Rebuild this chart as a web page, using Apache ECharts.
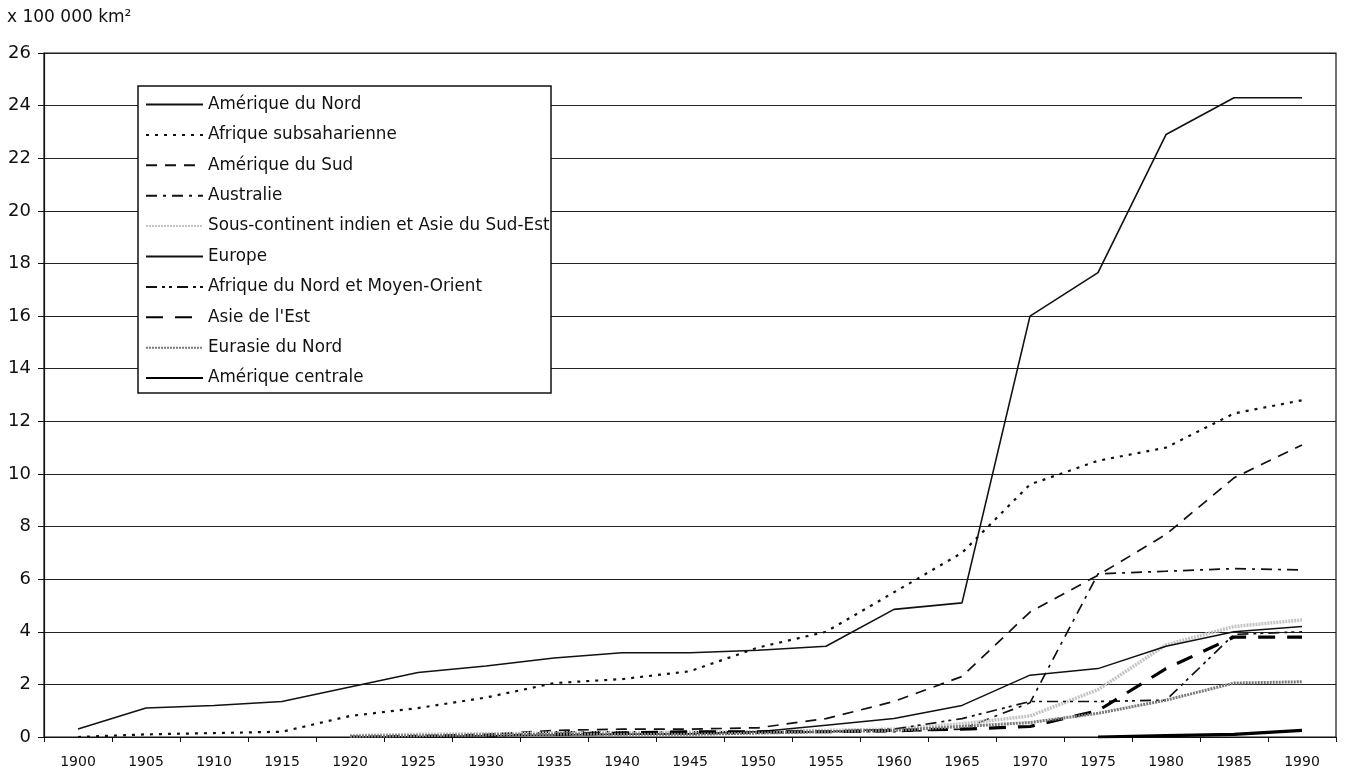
<!DOCTYPE html>
<html>
<head>
<meta charset="utf-8">
<title>Superficie par région</title>
<script src="https://cdn.jsdelivr.net/npm/echarts@6/dist/echarts.min.js"></script>
<style>
  html, body { margin: 0; padding: 0; background: #fff; }
  #chart { width: 1345px; height: 778px; }
</style>
</head>
<body>
<div id="chart"></div>
<script>
// Années (axe des abscisses)
const years = ['1900','1905','1910','1915','1920','1925','1930','1935','1940','1945',
               '1950','1955','1960','1965','1970','1975','1980','1985','1990'];

// Valeurs en centaines de milliers de km²
const ameriqueNord     = [0.3, 1.1, 1.2, 1.35, 1.9, 2.45, 2.7, 3.0, 3.2, 3.2, 3.3, 3.45, 4.85, 5.1, 16.0, 17.65, 22.9, 24.3, 24.3];
const afriqueSub       = [0.0, 0.1, 0.15, 0.2, 0.8, 1.1, 1.5, 2.05, 2.2, 2.5, 3.4, 4.0, 5.5, 7.0, 9.6, 10.5, 11.0, 12.3, 12.8];
const ameriqueSud      = ['-', '-', '-', '-', 0.02, 0.05, 0.1, 0.25, 0.3, 0.3, 0.35, 0.7, 1.35, 2.3, 4.75, 6.15, 7.7, 9.85, 11.1];
const australie        = ['-', '-', '-', '-', '-', '-', 0.0, 0.2, 0.2, 0.2, 0.2, 0.2, 0.2, 0.3, 1.3, 6.2, 6.3, 6.4, 6.35];
const sousContinent    = ['-', '-', '-', '-', 0.05, 0.1, 0.12, 0.15, 0.15, 0.18, 0.2, 0.25, 0.3, 0.5, 0.8, 1.8, 3.5, 4.2, 4.45];
const europe           = ['-', '-', '-', '-', 0.0, 0.02, 0.05, 0.08, 0.1, 0.12, 0.2, 0.45, 0.7, 1.2, 2.35, 2.6, 3.45, 4.0, 4.2];
const afriqueNord      = ['-', '-', '-', '-', '-', '-', '-', 0.1, 0.1, 0.12, 0.15, 0.2, 0.3, 0.7, 1.35, 1.35, 1.4, 3.9, 4.0];
const asieEst          = ['-', '-', '-', '-', '-', '-', '-', 0.1, 0.15, 0.2, 0.2, 0.2, 0.25, 0.3, 0.4, 1.0, 2.6, 3.8, 3.8];
const eurasieNord      = ['-', '-', '-', '-', 0.03, 0.05, 0.08, 0.1, 0.1, 0.1, 0.15, 0.2, 0.25, 0.4, 0.55, 0.9, 1.4, 2.05, 2.1];
const ameriqueCentrale = ['-', '-', '-', '-', '-', '-', '-', '-', '-', '-', '-', '-', '-', '-', '-', 0.0, 0.05, 0.1, 0.25];

const FONT = 'DejaVu Sans';

function ligne(name, data, color, width, type) {
  return {
    name: name,
    type: 'line',
    data: data,
    symbol: 'none',
    smooth: false,
    connectNulls: false,
    silent: true,
    lineStyle: { color: color, width: width, type: type, cap: 'butt' },
    itemStyle: { color: color }
  };
}

const series = [
  ligne('Amérique du Nord', ameriqueNord, '#111', 1.6, 'solid'),
  ligne('Afrique subsaharienne', afriqueSub, '#111', 2.2, [3, 6]),
  ligne('Amérique du Sud', ameriqueSud, '#111', 1.7, [11, 8]),
  ligne('Australie', australie, '#111', 1.7, [11, 6, 3, 6]),
  ligne('Sous-continent indien et Asie du Sud-Est', sousContinent, '#c4c4c4', 3.5, [2, 1]),
  ligne('Europe', europe, '#111', 1.5, 'solid'),
  ligne('Afrique du Nord et Moyen-Orient', afriqueNord, '#111', 1.7, [11, 5, 3, 4, 3, 5]),
  ligne("Asie de l'Est", asieEst, '#000', 3.2, [17, 12]),
  ligne('Eurasie du Nord', eurasieNord, '#7a7a7a', 3, [2, 1]),
  ligne('Amérique centrale', ameriqueCentrale, '#000', 3.2, 'solid')
];

const chart = echarts.init(document.getElementById('chart'), null, { renderer: 'canvas' });

chart.setOption({
  animation: false,
  backgroundColor: '#fff',
  textStyle: { fontFamily: FONT },
  title: {
    text: 'x 100 000 km²',
    left: 2,
    top: 4,
    textStyle: { fontFamily: FONT, fontSize: 17, fontWeight: 'normal', color: '#111' }
  },
  grid: {
    left: 44,
    right: 9,
    top: 53,
    bottom: 41,
    show: true,
    borderColor: '#111',
    borderWidth: 1.2,
    backgroundColor: 'transparent'
  },
  graphic: [{
    type: 'rect',
    z: 3,
    shape: { x: 138, y: 86, width: 413, height: 307 },
    style: { fill: '#fff', stroke: '#111', lineWidth: 1.5 }
  }],
  legend: {
    orient: 'vertical',
    left: 138,
    top: 86,
    padding: [10, 4, 8, 7],
    itemWidth: 57,
    itemHeight: 14,
    itemGap: 13.4,
    itemTextGap: 5,
    z: 5,
    selectedMode: false,
    backgroundColor: 'transparent',
    itemStyle: { opacity: 0 },
    textStyle: { fontFamily: FONT, fontSize: 16.8, color: '#111' },
    data: series.map(s => s.name)
  },
  xAxis: {
    type: 'category',
    data: years,
    boundaryGap: true,
    axisLine: { lineStyle: { color: '#111', width: 1.2 } },
    axisTick: { show: true, length: 5, lineStyle: { color: '#111' } },
    axisLabel: { interval: 0, margin: 18, fontSize: 14, color: '#111', fontFamily: FONT },
    splitLine: { show: false }
  },
  yAxis: {
    type: 'value',
    min: 0,
    max: 26,
    interval: 2,
    axisLine: { show: true, lineStyle: { color: '#111', width: 1.2 } },
    axisTick: { show: true, length: 6, lineStyle: { color: '#111' } },
    axisLabel: { margin: 13, fontSize: 18, color: '#111', fontFamily: FONT },
    splitLine: { show: true, lineStyle: { color: '#222', width: 1.2 } }
  },
  series: series
});
</script>
</body>
</html>
